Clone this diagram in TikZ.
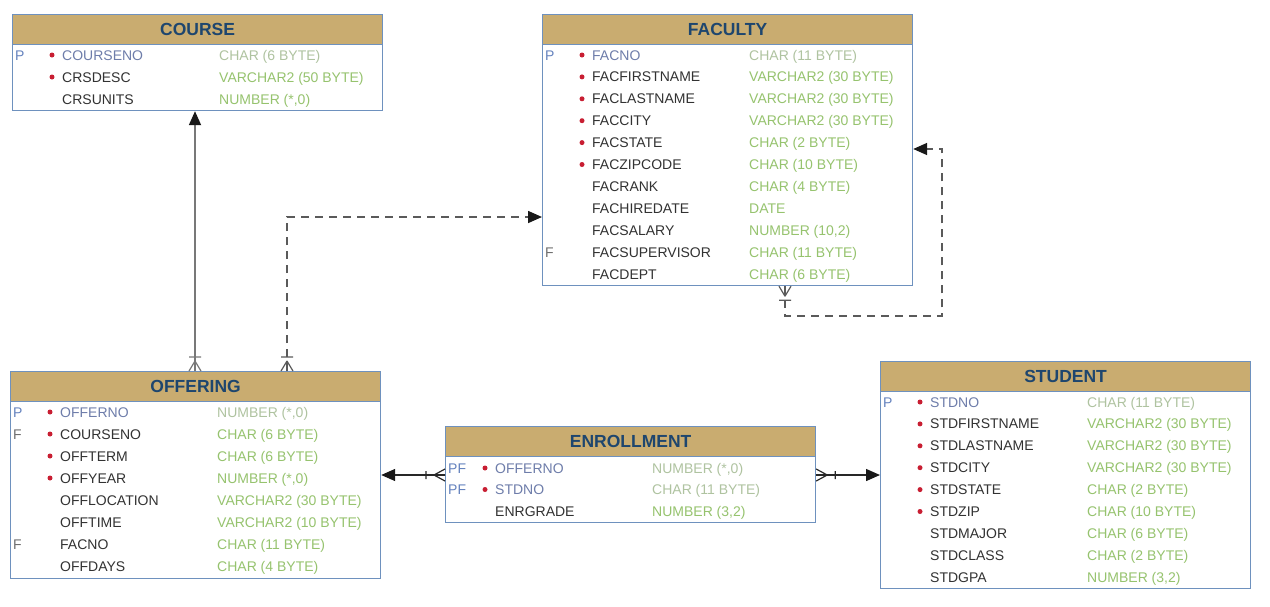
\documentclass[tikz,border=0pt]{standalone}
\usepackage{fontspec}
\setmainfont{Liberation Sans}
\usetikzlibrary{arrows.meta,calc}
\definecolor{hdrfill}{RGB}{201,172,112}
\definecolor{hdrtext}{RGB}{30,70,110}
\definecolor{tblborder}{RGB}{110,145,190}
\definecolor{colgray}{RGB}{50,50,50}
\definecolor{pkblue}{RGB}{110,125,170}
\definecolor{keyblue}{RGB}{100,130,190}
\definecolor{keygray}{RGB}{110,110,110}
\definecolor{typegreen}{RGB}{150,195,110}
\definecolor{pktypecol}{RGB}{175,195,160}
\definecolor{bulletred}{RGB}{200,30,50}
\definecolor{linegray}{RGB}{120,120,120}
\definecolor{dashcol}{RGB}{90,90,90}
\definecolor{darkline}{RGB}{40,40,40}
\definecolor{tipcol}{RGB}{25,25,25}
\tikzset{
  tblbody/.style={draw=tblborder, line width=1.2pt, fill=white, anchor=north west, inner sep=0pt, minimum width=370pt},
  tblhdr/.style={fill=hdrfill, draw=tblborder, line width=1.2pt, anchor=north west, inner sep=0pt,
     minimum width=370pt, minimum height=30pt, font=\fontsize{17.5}{17.5}\selectfont\bfseries, text=hdrtext},
  cellbase/.style={anchor=base west, inner sep=0pt, font=\fontsize{14}{16}\selectfont},
  keyP/.style={cellbase, text=keyblue},
  keyF/.style={cellbase, text=keygray},
  pkname/.style={cellbase, text=pkblue},
  colname/.style={cellbase, text=colgray},
  pktype/.style={cellbase, text=pktypecol},
  coltype/.style={cellbase, text=typegreen},
  bullet/.style={circle, fill=bulletred, inner sep=0pt, minimum size=5pt},
  relsolid/.style={draw=linegray, line width=1.8pt},
  reldash/.style={draw=dashcol, line width=1.6pt, dash pattern=on 8pt off 6pt},
  reldark/.style={draw=darkline, line width=1.4pt},
  crow/.style={draw=#1, line width=1.2pt},
  tip/.style={-{Triangle[length=14pt,width=12pt,color=tipcol]}}
}
% #1 prefix, #2 table left x, #3 row mid y, #4 key style, #5 key text, #6 bullet 1/0, #7 pk/col, #8 name, #9 type
\newcommand\erow[9]{%
  \if\relax\detokenize{#5}\relax\else
    \node[#4] (#1k) at ({#2+3},{#3+5}) {#5};\fi
  \ifnum#6=1 \node[bullet] (#1b) at ({#2+40},{#3}) {};\fi
  \node[#7name] (#1n) at ({#2+50},{#3+5}) {#8};
  \node[#7type] (#1t) at ({#2+207},{#3+5}) {#9};
}
% vertical crow's foot: #1 colour, #2 edge coordinate, #3 direction (-1 apex above, 1 apex below)
\newcommand\crowv[3]{%
  \draw[crow=#1] ($(#2)+({0},{#3*10})$) -- ($(#2)+(-6,0)$)
                 ($(#2)+({0},{#3*10})$) -- (#2)
                 ($(#2)+({0},{#3*10})$) -- ($(#2)+(6,0)$)
                 ($(#2)+({-6},{#3*14})$) -- ($(#2)+({6},{#3*14})$);
}
% horizontal crow's foot: #1 colour, #2 edge coordinate, #3 direction (-1 apex left, 1 apex right)
\newcommand\crowh[3]{%
  \draw[crow=#1] ($(#2)+({#3*11},{0})$) -- ($(#2)+(0,-6)$)
                 ($(#2)+({#3*11},{0})$) -- (#2)
                 ($(#2)+({#3*11},{0})$) -- ($(#2)+(0,6)$)
                 ($(#2)+({#3*19},{-4})$) -- ($(#2)+({#3*19},{4})$);
}
\begin{document}
\begin{tikzpicture}[x=1pt,y=-1pt]
\useasboundingbox[fill=white] (0,0) rectangle (1270,606);

% ---------- COURSE ----------
\node[tblbody, minimum height=96pt] (course) at (12,14) {};
\node[tblhdr] (course-h) at (12,14) {COURSE};
\erow{c1}{12}{55}{keyP}{P}{1}{pk}{COURSENO}{CHAR (6 BYTE)}
\erow{c2}{12}{77}{keyP}{}{1}{col}{CRSDESC}{VARCHAR2 (50 BYTE)}
\erow{c3}{12}{99}{keyP}{}{0}{col}{CRSUNITS}{NUMBER (*,0)}

% ---------- FACULTY ----------
\node[tblbody, minimum height=271pt] (faculty) at (542,14) {};
\node[tblhdr] (faculty-h) at (542,14) {FACULTY};
\erow{f1}{542}{55}{keyP}{P}{1}{pk}{FACNO}{CHAR (11 BYTE)}
\erow{f2}{542}{76.9}{keyP}{}{1}{col}{FACFIRSTNAME}{VARCHAR2 (30 BYTE)}
\erow{f3}{542}{98.8}{keyP}{}{1}{col}{FACLASTNAME}{VARCHAR2 (30 BYTE)}
\erow{f4}{542}{120.7}{keyP}{}{1}{col}{FACCITY}{VARCHAR2 (30 BYTE)}
\erow{f5}{542}{142.6}{keyP}{}{1}{col}{FACSTATE}{CHAR (2 BYTE)}
\erow{f6}{542}{164.5}{keyP}{}{1}{col}{FACZIPCODE}{CHAR (10 BYTE)}
\erow{f7}{542}{186.4}{keyP}{}{0}{col}{FACRANK}{CHAR (4 BYTE)}
\erow{f8}{542}{208.3}{keyP}{}{0}{col}{FACHIREDATE}{DATE}
\erow{f9}{542}{230.2}{keyP}{}{0}{col}{FACSALARY}{NUMBER (10,2)}
\erow{f10}{542}{252.1}{keyF}{F}{0}{col}{FACSUPERVISOR}{CHAR (11 BYTE)}
\erow{f11}{542}{274}{keyP}{}{0}{col}{FACDEPT}{CHAR (6 BYTE)}

% ---------- OFFERING ----------
\node[tblbody, minimum height=207pt] (offering) at (10,371) {};
\node[tblhdr] (offering-h) at (10,371) {OFFERING};
\erow{o1}{10}{412}{keyP}{P}{1}{pk}{OFFERNO}{NUMBER (*,0)}
\erow{o2}{10}{434}{keyF}{F}{1}{col}{COURSENO}{CHAR (6 BYTE)}
\erow{o3}{10}{456}{keyP}{}{1}{col}{OFFTERM}{CHAR (6 BYTE)}
\erow{o4}{10}{478}{keyP}{}{1}{col}{OFFYEAR}{NUMBER (*,0)}
\erow{o5}{10}{500}{keyP}{}{0}{col}{OFFLOCATION}{VARCHAR2 (30 BYTE)}
\erow{o6}{10}{522}{keyP}{}{0}{col}{OFFTIME}{VARCHAR2 (10 BYTE)}
\erow{o7}{10}{544}{keyF}{F}{0}{col}{FACNO}{CHAR (11 BYTE)}
\erow{o8}{10}{566}{keyP}{}{0}{col}{OFFDAYS}{CHAR (4 BYTE)}

% ---------- ENROLLMENT ----------
\node[tblbody, minimum height=96pt] (enrollment) at (445,426) {};
\node[tblhdr] (enrollment-h) at (445,426) {ENROLLMENT};
\erow{e1}{445}{468}{keyP}{PF}{1}{pk}{OFFERNO}{NUMBER (*,0)}
\erow{e2}{445}{489.5}{keyP}{PF}{1}{pk}{STDNO}{CHAR (11 BYTE)}
\erow{e3}{445}{511}{keyP}{}{0}{col}{ENRGRADE}{NUMBER (3,2)}

% ---------- STUDENT ----------
\node[tblbody, minimum height=227pt] (student) at (880,361) {};
\node[tblhdr] (student-h) at (880,361) {STUDENT};
\erow{s1}{880}{402}{keyP}{P}{1}{pk}{STDNO}{CHAR (11 BYTE)}
\erow{s2}{880}{423.9}{keyP}{}{1}{col}{STDFIRSTNAME}{VARCHAR2 (30 BYTE)}
\erow{s3}{880}{445.8}{keyP}{}{1}{col}{STDLASTNAME}{VARCHAR2 (30 BYTE)}
\erow{s4}{880}{467.7}{keyP}{}{1}{col}{STDCITY}{VARCHAR2 (30 BYTE)}
\erow{s5}{880}{489.6}{keyP}{}{1}{col}{STDSTATE}{CHAR (2 BYTE)}
\erow{s6}{880}{511.5}{keyP}{}{1}{col}{STDZIP}{CHAR (10 BYTE)}
\erow{s7}{880}{533.4}{keyP}{}{0}{col}{STDMAJOR}{CHAR (6 BYTE)}
\erow{s8}{880}{555.3}{keyP}{}{0}{col}{STDCLASS}{CHAR (2 BYTE)}
\erow{s9}{880}{577.2}{keyP}{}{0}{col}{STDGPA}{NUMBER (3,2)}

% ---------- connectors ----------
% OFFERING -> COURSE
\coordinate (oc) at ([xshift=185pt]offering.north west);
\draw[relsolid, tip] (oc) -- (oc |- course.south);
\crowv{linegray}{oc}{-1}

% OFFERING -> FACULTY (dashed)
\coordinate (of) at ([xshift=277pt]offering.north west);
\coordinate (fin) at ([yshift=-203pt]faculty.north west);
\draw[reldash, tip] (of) |- (fin);
\crowv{dashcol}{of}{-1}

% FACULTY self reference (dashed)
\coordinate (fs) at ([xshift=243pt]faculty.south west);
\coordinate (fe) at ([yshift=-135pt]faculty.north east);
\draw[reldash, tip] (fs) -- ($(fs)+(0,30)$) -| ($(fe)+(29,0)$) -- (fe);
\crowv{dashcol}{fs}{1}

% ENROLLMENT -> OFFERING
\coordinate (el) at ([yshift=-49pt]enrollment.north west);
\draw[reldark, tip] (el) -- (el -| offering.east);
\crowh{darkline}{el}{-1}

% ENROLLMENT -> STUDENT
\coordinate (er) at ([yshift=-49pt]enrollment.north east);
\draw[reldark, tip] (er) -- (er -| student.west);
\crowh{darkline}{er}{1}
\end{tikzpicture}
\end{document}
